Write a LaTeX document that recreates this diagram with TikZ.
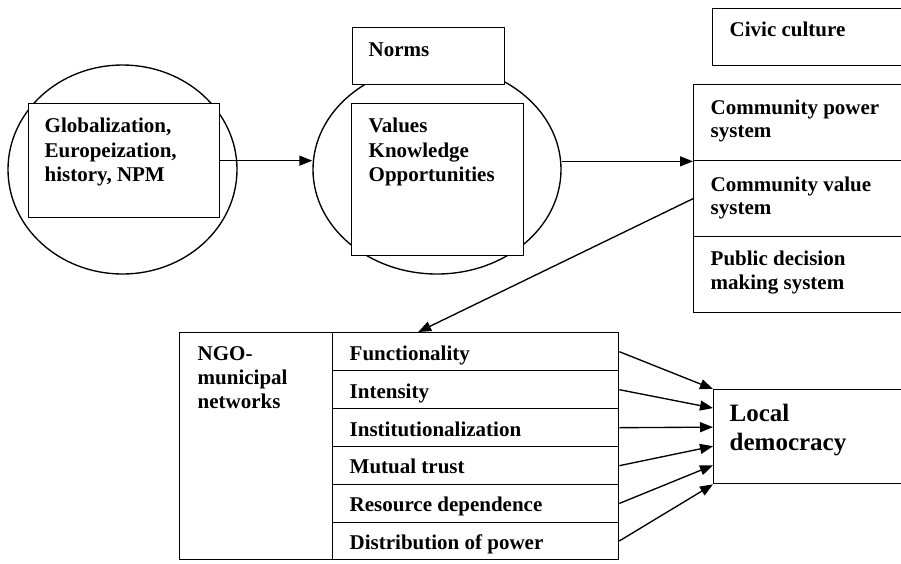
\documentclass[tikz,border=0pt]{standalone}
\usepackage{fontspec}
\setmainfont{Liberation Serif}
\usetikzlibrary{arrows.meta,calc,shapes.geometric}
\newcommand\mkbox[5]{\node[boxst, minimum width=#4pt, minimum height=#5pt] (#1) at (#2,#3) {};}
\newcommand\mktxt[4]{\node[lbl] (#1) at (#2,#3) {#4};}
\begin{document}
\begin{tikzpicture}[x=1pt,y=-1pt,
  line width=1.35pt,
  boxst/.style={draw, fill=white, rectangle, inner sep=0pt, anchor=north west},
  ell/.style={draw, ellipse, inner sep=0pt},
  lbl/.style={anchor=base west, inner sep=0pt, font=\fontsize{21}{25}\selectfont\bfseries},
  biglbl/.style={anchor=base west, inner sep=0pt, font=\fontsize{25}{29}\selectfont\bfseries},
  arr/.style={-{Triangle[length=13pt,width=10pt]}},
]
\useasboundingbox (0,0) rectangle (901,563);
\fill[white] (0,0) rectangle (901,563);

% ellipses
\node[ell, minimum width=229pt, minimum height=209pt] (lell) at (122.5,169.5) {};
\node[ell, minimum width=248pt, minimum height=209pt] (mell) at (437,169.5) {};

% boxes
\mkbox{glob}{28}{103}{191}{114}
\mkbox{norms}{352}{27}{152}{57}
\mkbox{vals}{351}{103}{172}{152}
\mkbox{civic}{712}{8}{195}{57}
\mkbox{cp}{693}{84}{214}{76}
\mkbox{cv}{693}{160}{214}{76}
\mkbox{pd}{693}{236}{214}{76}
\mkbox{ngo}{179}{332}{153}{227}
\mkbox{r1}{332}{332}{286}{38}
\mkbox{r2}{332}{370}{286}{38}
\mkbox{r3}{332}{408}{286}{38}
\mkbox{r4}{332}{446}{286}{38}
\mkbox{r5}{332}{484}{286}{37.5}
\mkbox{r6}{332}{521.5}{286}{37.5}
\mkbox{ld}{713}{389}{194}{94}

% texts
\mktxt{g1}{44}{132}{Globalization,}
\mktxt{g2}{44}{157}{Europeization,}
\mktxt{g3}{44}{181}{history, NPM}
\mktxt{n1}{368}{56}{Norms}
\mktxt{v1}{368}{132}{Values}
\mktxt{v2}{368}{157}{Knowledge}
\mktxt{v3}{368}{181}{Opportunities}
\mktxt{c1}{729}{36}{Civic culture}
\mktxt{cp1}{710}{114}{Community power}
\mktxt{cp2}{710}{137}{system}
\mktxt{cv1}{710}{191}{Community value}
\mktxt{cv2}{710}{214}{system}
\mktxt{pd1}{710}{265}{Public decision}
\mktxt{pd2}{710}{289}{making system}
\mktxt{ng1}{197}{360}{NGO-}
\mktxt{ng2}{197}{384}{municipal}
\mktxt{ng3}{197}{408}{networks}
\mktxt{t1}{349}{360}{Functionality}
\mktxt{t2}{349}{398}{Intensity}
\mktxt{t3}{349}{436}{Institutionalization}
\mktxt{t4}{349}{473}{Mutual trust}
\mktxt{t5}{349}{511}{Resource dependence}
\mktxt{t6}{349}{549}{Distribution of power}
\node[biglbl] (ld1) at (729,421) {Local};
\node[biglbl] (ld2) at (729,450) {democracy};

% connectors
\draw[arr] (glob.east) -- (glob.east -| mell.west);
\draw[arr] (cp.south west -| mell.east) -- (cp.south west);
\draw[arr] (cv.west) -- ($(r1.north west)!0.3!(r1.north east)$);
\foreach \r/\k in {r1/0, r2/0.2, r3/0.4, r4/0.6, r5/0.8, r6/1}
  \draw[arr] (\r.east) -- ($(ld.north west)!\k!(ld.south west)$);
\end{tikzpicture}
\end{document}
